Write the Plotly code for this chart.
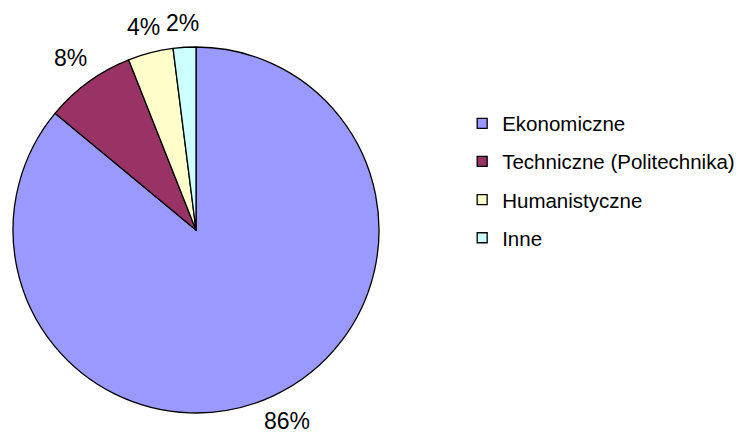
import numpy as np
import plotly.graph_objects as go

labels = ['Ekonomiczne', 'Techniczne (Politechnika)', 'Humanistyczne', 'Inne']
values = [86, 8, 4, 2]
colors = ['#9999FF', '#993366', '#FFFFCC', '#CCFFFF']

W, H = 747, 436
# pie box in figure pixels (page has an 8px body margin)
px0, px1, py0, py1 = 5, 371, 39, 405
cx, cy = (px0 + px1) / 2, (py0 + py1) / 2
R = (px1 - px0) / 2
fsize = 23
ymax = H - 8  # visible bottom of the window, in figure pixels

fig = go.Figure()
fig.add_trace(go.Pie(
    labels=labels,
    values=values,
    sort=False,
    direction='clockwise',
    rotation=0,
    marker=dict(colors=colors, line=dict(color='black', width=1.3)),
    textinfo='none',
    hoverinfo='label+percent',
    showlegend=False,
    domain=dict(x=[px0 / W, px1 / W], y=[1 - py1 / H, 1 - py0 / H]),
))

# percent labels placed outside, like excel does
tot = sum(values)
cum = 0
for v in values:
    mid = (cum + v / 2) / tot * 2 * np.pi
    cum += v
    txt = f'{round(v / tot * 100)}%'
    tw = len(txt) * 0.6 * fsize
    th = 0.85 * fsize
    s, c = np.sin(mid), np.cos(mid)
    d = R + 14 + abs(s) * tw / 2 + abs(c) * th / 2
    x = cx + s * d
    y = min(cy - c * d, ymax - 0.65 * fsize)
    fig.add_annotation(x=x / W, y=1 - y / H, xref='paper', yref='paper',
                       text=txt, showarrow=False, xanchor='center', yanchor='middle',
                       font=dict(size=fsize, color='black'))

# legend entries
for lab, col in zip(labels, colors):
    fig.add_trace(go.Scatter(
        x=[None], y=[None], mode='markers', name=lab, legendgroup=lab,
        marker=dict(symbol='square', size=10, color=col, line=dict(color='black', width=1.3)),
    ))

fig.update_layout(
    width=W, height=H,
    margin=dict(l=0, r=0, t=0, b=0),
    paper_bgcolor='white',
    plot_bgcolor='white',
    xaxis=dict(visible=False),
    yaxis=dict(visible=False),
    font=dict(family='Liberation Sans, Arial', color='black'),
    legend=dict(x=0.608, y=0.781, xanchor='left', yanchor='top',
                font=dict(size=20.5, color='black'),
                itemwidth=30, tracegroupgap=8.5),
    showlegend=True,
)

fig.write_html("out.html")
